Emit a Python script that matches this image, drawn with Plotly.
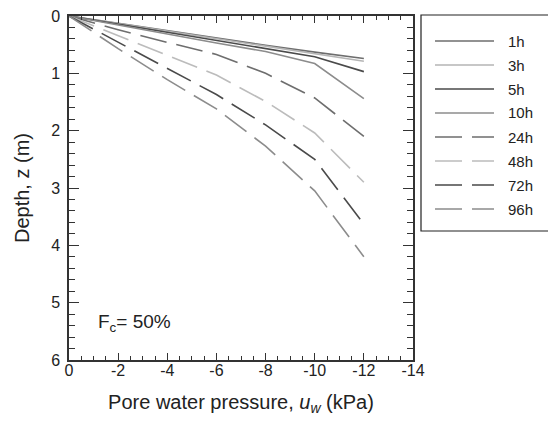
import plotly.graph_objects as go

# ---- data ----
pressure = [0, -2, -4, -6, -8, -10, -12]
labels = ["1h", "3h", "5h", "10h", "24h", "48h", "72h", "96h"]
depth_1h = [0, 0.13, 0.26, 0.39, 0.51, 0.63, 0.74]
depth_3h = [0, 0.13, 0.27, 0.40, 0.53, 0.66, 0.79]
depth_5h = [0, 0.14, 0.28, 0.42, 0.56, 0.71, 0.97]
depth_10h = [0, 0.16, 0.32, 0.47, 0.62, 0.83, 1.44]
depth_24h = [0, 0.24, 0.46, 0.67, 1.00, 1.43, 2.10]
depth_48h = [0, 0.34, 0.68, 1.03, 1.49, 2.04, 2.90]
depth_72h = [0, 0.46, 0.92, 1.37, 1.90, 2.50, 3.63]
depth_96h = [0, 0.57, 1.11, 1.62, 2.27, 3.05, 4.20]
series = [depth_1h, depth_3h, depth_5h, depth_10h, depth_24h, depth_48h, depth_72h, depth_96h]
x_ticks = [0, -2, -4, -6, -8, -10, -12, -14]
x_tick_text = ["0", "-2", "-4", "-6", "-8", "-10", "-12", "-14"]
y_ticks = [0, 1, 2, 3, 4, 5, 6]

colors = ["#6e6e6e", "#b5b5b5", "#4a4a4a", "#8c8c8c",
          "#6e6e6e", "#bcbcbc", "#4a4a4a", "#8c8c8c"]
dashes = ["solid"] * 4 + ["27px,10px"] * 4

FONT = "Liberation Sans, Arial, sans-serif"

fig = go.Figure()
for name, ys, c, d in zip(labels, series, colors, dashes):
    fig.add_trace(go.Scatter(x=pressure, y=ys, mode="lines", name=name,
                             line=dict(color=c, width=1.6, dash=d),
                             showlegend=False))

# ---- manual legend (paper coords) ----
W, H = 548, 421
ml, mr, mt, mb = 69, 135, 16, 61
pw = W - ml - mr
ph = H - mt - mb

def px_x(p):
    return (p - ml) / pw

def px_y(p):
    return (H - mb - p) / ph

fig.add_shape(type="rect", xref="paper", yref="paper",
              x0=px_x(421), x1=px_x(570), y0=px_y(231), y1=px_y(15),
              line=dict(color="#222222", width=1.2), fillcolor="rgba(0,0,0,0)")
for i, (name, c, d) in enumerate(zip(labels, colors, dashes)):
    yy = px_y(41 + 24 * i)
    fig.add_shape(type="line", xref="paper", yref="paper",
                  x0=px_x(435), x1=px_x(494), y0=yy, y1=yy,
                  line=dict(color=c, width=1.6, dash=d))
    fig.add_annotation(xref="paper", yref="paper", x=px_x(506), y=yy,
                       text=name, showarrow=False, xanchor="left", yanchor="middle",
                       font=dict(family=FONT, size=15, color="#222222"))

fig.add_annotation(x=-1.1, y=5.36, xref="x", yref="y",
                   text="F<sub>c</sub>= 50%", showarrow=False,
                   xanchor="left", yanchor="middle",
                   font=dict(family=FONT, size=19, color="#222222"))

fig.update_layout(
    width=W, height=H,
    margin=dict(l=ml, r=mr, t=mt, b=mb, autoexpand=False),
    paper_bgcolor="white", plot_bgcolor="white",
    font=dict(family=FONT, size=16, color="#222222"),
)
fig.update_xaxes(
    range=[0, -14], tickvals=x_ticks, ticktext=x_tick_text, automargin=False,
    showgrid=False, zeroline=False,
    showline=True, linecolor="#333333", linewidth=1.5, mirror="ticks",
    ticks="inside", ticklen=7, tickwidth=1.2, tickcolor="#333333",
    minor=dict(dtick=0.5, ticks="inside", ticklen=4, tickwidth=1, tickcolor="#333333", showgrid=False),
    tickfont=dict(size=16), ticklabelstandoff=-5,
    title=dict(text="Pore water pressure, <i>u</i><sub><i>w</i></sub> (kPa)",
               font=dict(size=20), standoff=17),
)
fig.update_yaxes(
    range=[6, 0], tickvals=y_ticks, automargin=False,
    showgrid=False, zeroline=False,
    showline=True, linecolor="#333333", linewidth=1.5, mirror="ticks",
    ticks="inside", ticklen=10, tickwidth=1.2, tickcolor="#333333",
    minor=dict(dtick=0.2, ticks="inside", ticklen=6, tickwidth=1, tickcolor="#333333", showgrid=False),
    tickfont=dict(size=16), ticklabelstandoff=4,
    title=dict(text="Depth, z (m)", font=dict(size=20), standoff=16),
)

fig.write_html("out.html")
